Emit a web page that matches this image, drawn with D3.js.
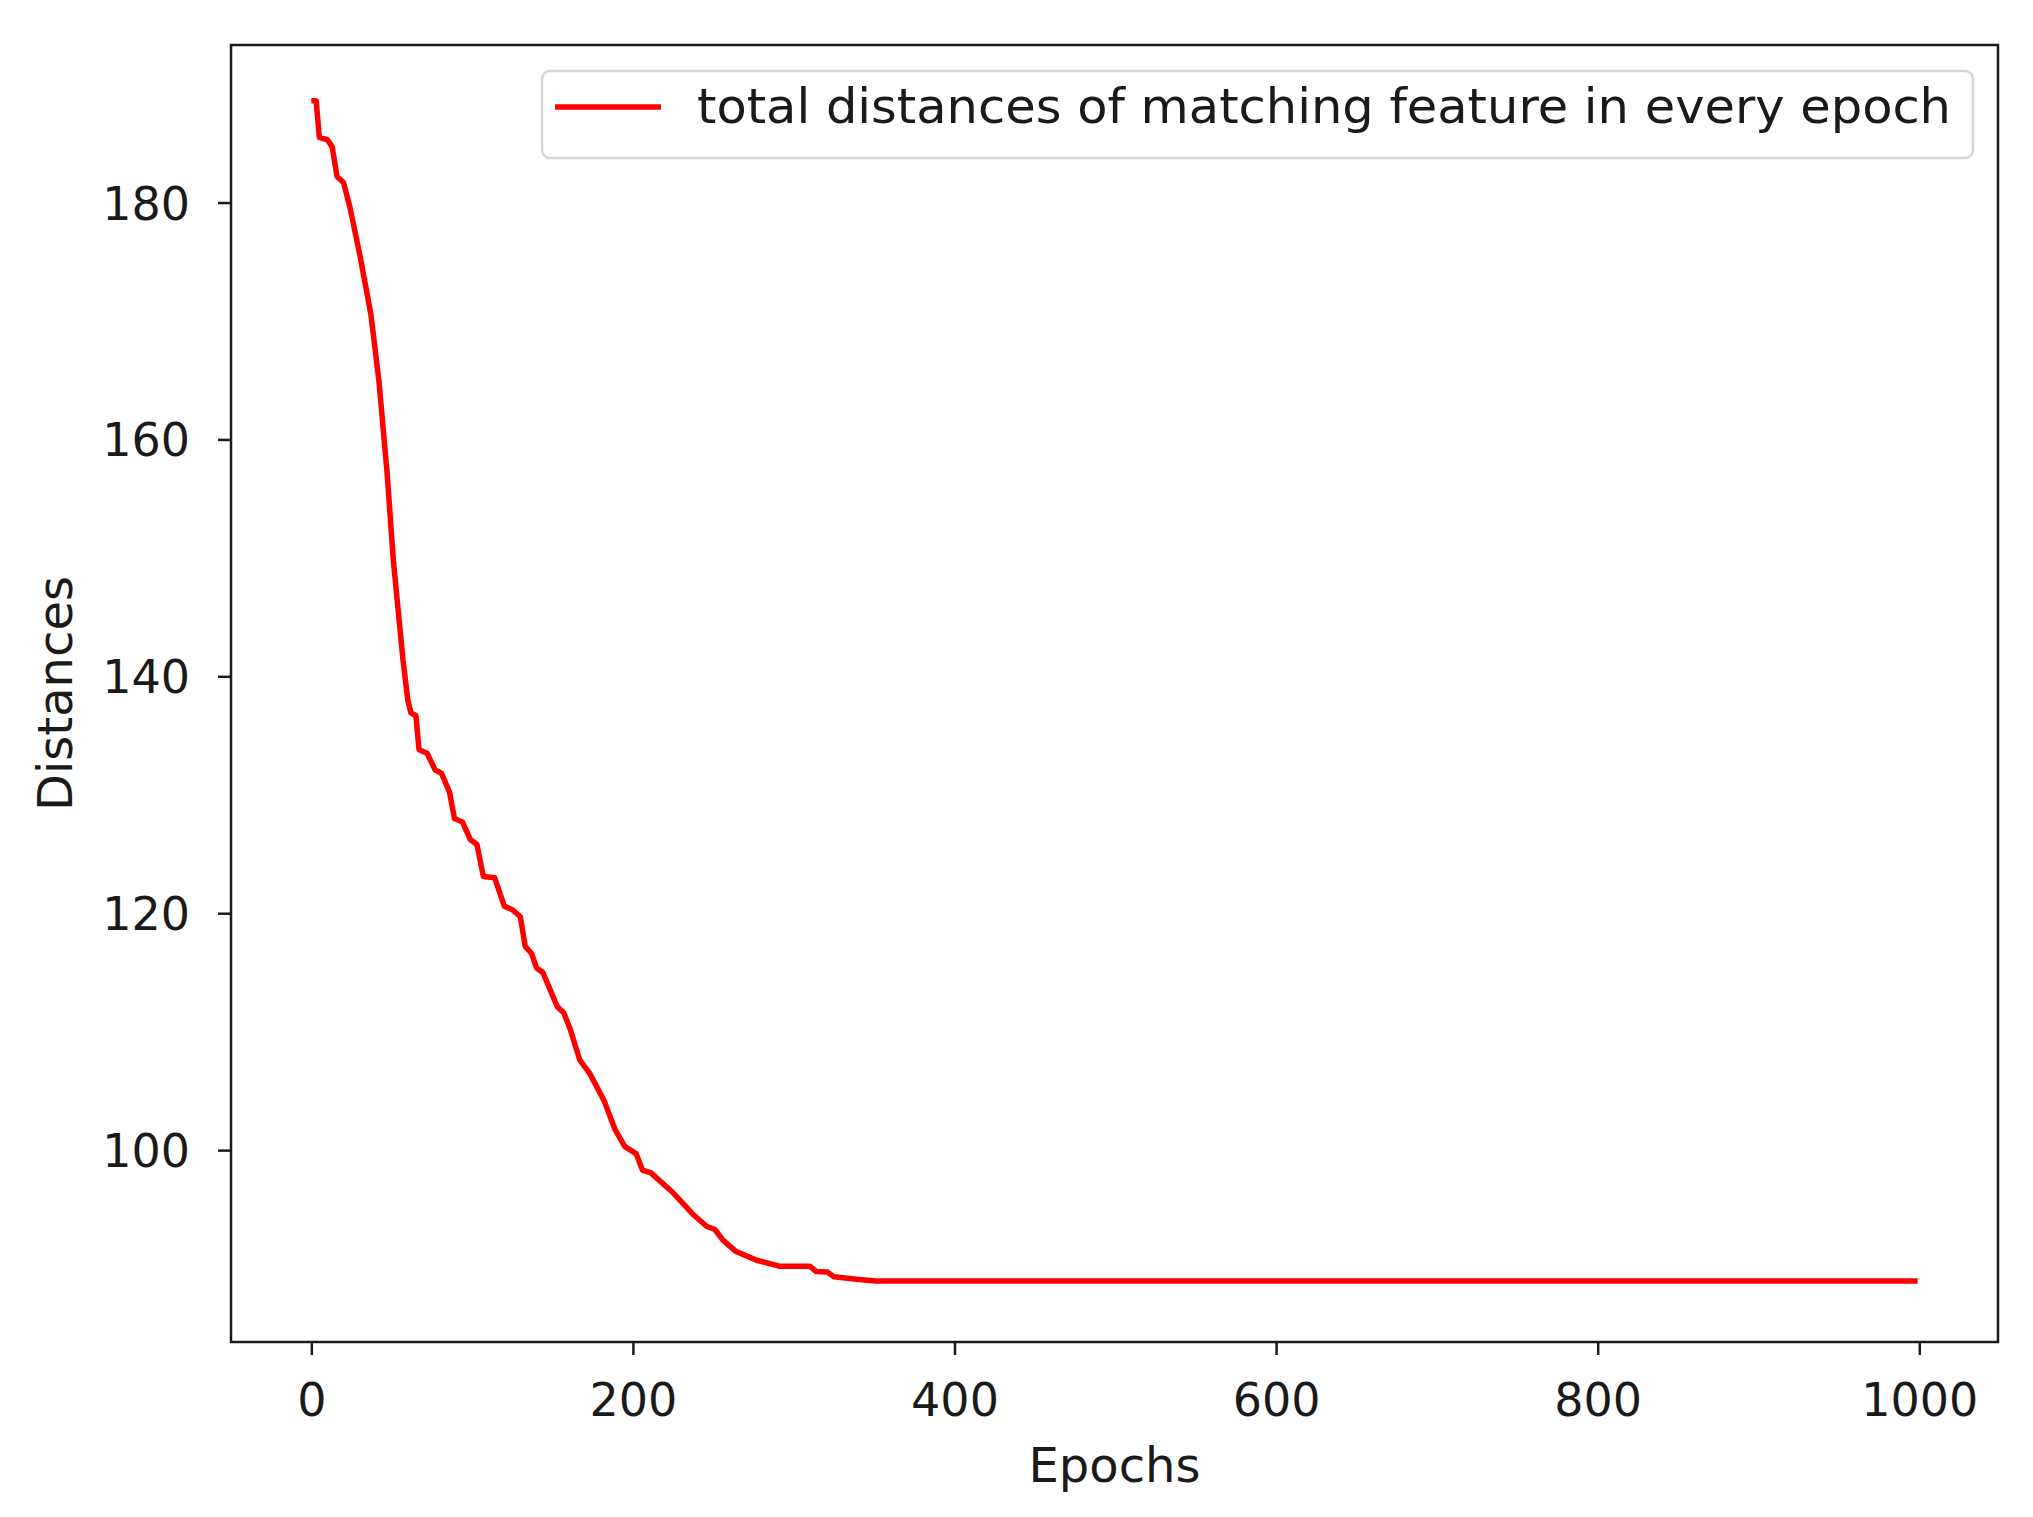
<!DOCTYPE html>
<html>
<head>
<meta charset="utf-8">
<script src="https://cdn.jsdelivr.net/npm/d3@7"></script>
<style>
  html, body { margin: 0; padding: 0; background: #fff; }
  svg { display: block; }
  text { font-family: "DejaVu Sans", sans-serif; fill: #1a1a1a; }
</style>
</head>
<body>
<svg id="chart" width="2033" height="1517"></svg>
<script>
// ---- data ----
const epochs = [0, 3, 5, 10, 13, 16, 20, 24, 30, 37, 42, 47, 51, 57, 60, 62, 65, 67, 72, 77, 81, 86, 89, 94, 99, 103, 107, 114, 120, 125, 130, 133, 137, 140, 144, 153, 157, 161, 167, 173, 182, 189, 195, 202, 206, 211, 225, 238, 246, 251, 256, 264, 277, 291, 310, 314, 321, 325, 339, 351, 999];
const distances = [188.6, 188.6, 185.5, 185.3, 184.7, 182.2, 181.7, 179.6, 175.7, 170.6, 165.0, 157.4, 149.8, 141.4, 138.0, 136.9, 136.7, 133.8, 133.5, 132.1, 131.8, 130.2, 128.0, 127.7, 126.2, 125.8, 123.1, 123.0, 120.6, 120.3, 119.7, 117.2, 116.6, 115.4, 115.0, 112.1, 111.6, 110.2, 107.6, 106.5, 104.2, 101.7, 100.3, 99.7, 98.3, 98.1, 96.4, 94.5, 93.55, 93.3, 92.4, 91.45, 90.7, 90.2, 90.2, 89.75, 89.7, 89.3, 89.1, 88.95, 88.95];
const xTicks = [0, 200, 400, 600, 800, 1000];
const yTicks = [100, 120, 140, 160, 180];
const seriesLabel = "total distances of matching feature in every epoch";
const xLabel = "Epochs";
const yLabel = "Distances";

// ---- layout ----
const L = 231, R = 1998, T = 45, B = 1342;
const svg = d3.select("#chart");

const x = d3.scaleLinear().domain([-49.95, 1048.95]).range([L, R]);
const y = d3.scaleLinear().domain([83.8, 193.3]).range([B, T]);

// line
const pts = epochs.map((e, i) => [e, distances[i]]);
svg.append("path")
  .datum(pts)
  .attr("fill", "none")
  .attr("stroke", "#ff0000")
  .attr("stroke-width", 5.5)
  .attr("stroke-linejoin", "round")
  .attr("d", d3.line().x(d => x(d[0])).y(d => y(d[1])));

// axes
const xAxis = d3.axisBottom(x).tickValues(xTicks).tickSize(13).tickPadding(28).tickFormat(d3.format("d"));
const yAxis = d3.axisLeft(y).tickValues(yTicks).tickSize(13).tickPadding(28).tickFormat(d3.format("d"));

const gx = svg.append("g").attr("transform", `translate(0,${B})`).call(xAxis);
const gy = svg.append("g").attr("transform", `translate(${L},0)`).call(yAxis);
[gx, gy].forEach(g => {
  g.select(".domain").remove();
  g.selectAll(".tick line").attr("stroke", "#1a1a1a").attr("stroke-width", 2.5);
  g.selectAll(".tick text").attr("font-size", 46).attr("font-family", "DejaVu Sans").attr("fill", "#1a1a1a");
});
gy.selectAll(".tick text").attr("dy", "0.36em");

// frame
svg.append("rect")
  .attr("x", L).attr("y", T).attr("width", R - L).attr("height", B - T)
  .attr("fill", "none").attr("stroke", "#1a1a1a").attr("stroke-width", 2.5);

// axis labels
svg.append("text")
  .attr("x", (L + R) / 2).attr("y", 1482)
  .attr("text-anchor", "middle").attr("font-size", 48)
  .text(xLabel);
svg.append("text")
  .attr("transform", `translate(72,${(T + B) / 2}) rotate(-90)`)
  .attr("text-anchor", "middle").attr("font-size", 48)
  .text(yLabel);

// legend
const lg = svg.append("g");
lg.append("rect")
  .attr("x", 542).attr("y", 71).attr("width", 1431).attr("height", 87)
  .attr("rx", 8).attr("fill", "#fff").attr("fill-opacity", 0.8)
  .attr("stroke", "#d6d6d6").attr("stroke-width", 2.5);
lg.append("line")
  .attr("x1", 555).attr("x2", 661).attr("y1", 107).attr("y2", 107)
  .attr("stroke", "#ff0000").attr("stroke-width", 5.5);
lg.append("text")
  .attr("x", 697).attr("y", 123)
  .attr("font-size", 48)
  .attr("textLength", 1254).attr("lengthAdjust", "spacingAndGlyphs")
  .text(seriesLabel);
</script>
</body>
</html>
